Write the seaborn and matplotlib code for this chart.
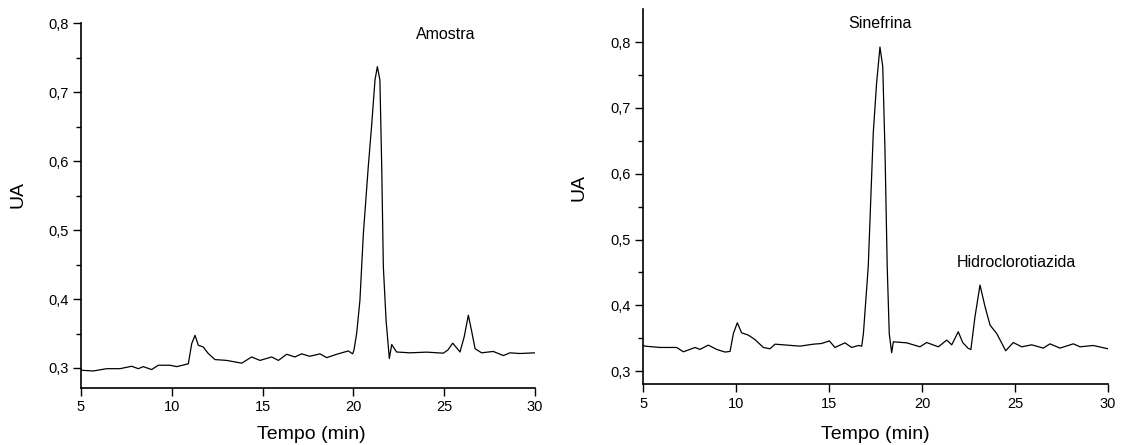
import numpy as np
import pandas as pd
import matplotlib
matplotlib.use("Agg")
import matplotlib.pyplot as plt
from matplotlib.ticker import FixedLocator, FuncFormatter
import seaborn as sns

# Chromatogram of the sample (Amostra)
amostra_tempo = [5.0, 5.04, 5.68, 6.41, 7.15, 7.79, 8.16, 8.43, 8.89, 9.26, 9.9, 10.27, 10.91,
                 11.1, 11.28, 11.46, 11.73, 12.01, 12.38, 13.02, 13.85, 14.4, 14.86, 15.5,
                 15.87, 16.33, 16.78, 17.15, 17.6, 18.16, 18.53, 19.08, 19.72, 19.96, 20.03,
                 20.18, 20.36, 20.55, 20.82, 21.0, 21.19, 21.32, 21.46, 21.56, 21.65, 21.8,
                 21.98, 22.11, 22.38, 23.11, 24.03, 24.95, 25.2, 25.47, 25.87, 26.1, 26.33,
                 26.5, 26.7, 27.06, 27.7, 28.26, 28.62, 29.17, 30.0]
amostra_ua = [0.297, 0.2967, 0.2957, 0.299, 0.299, 0.3025, 0.299, 0.302, 0.2977, 0.304, 0.304,
              0.302, 0.306, 0.3354, 0.3474, 0.333, 0.3305, 0.321, 0.3122, 0.311, 0.307, 0.316,
              0.311, 0.316, 0.311, 0.3199, 0.316, 0.3205, 0.317, 0.3205, 0.315, 0.3199, 0.3247,
              0.3205, 0.3257, 0.35, 0.398, 0.495, 0.592, 0.65, 0.7175, 0.737, 0.7175, 0.592,
              0.4466, 0.369, 0.3136, 0.334, 0.3232, 0.322, 0.323, 0.3215, 0.326, 0.336, 0.3232,
              0.345, 0.3765, 0.355, 0.328, 0.322, 0.324, 0.318, 0.322, 0.321, 0.322]

# Chromatogram of the standards (Sinefrina / Hidroclorotiazida)
padrao_tempo = [5.0, 5.11, 5.91, 6.81, 7.17, 7.8, 8.06, 8.51, 8.96, 9.41, 9.68, 9.86, 10.07,
                10.3, 10.66, 11.02, 11.47, 11.83, 12.1, 12.73, 13.44, 14.16, 14.6, 15.02,
                15.32, 15.86, 16.22, 16.58, 16.76, 16.85, 17.11, 17.38, 17.56, 17.74, 17.89,
                18.01, 18.13, 18.24, 18.37, 18.46, 19.18, 19.89, 20.25, 20.88, 21.33, 21.6,
                21.95, 22.19, 22.49, 22.63, 22.85, 23.12, 23.39, 23.66, 24.02, 24.19, 24.5,
                24.91, 25.36, 25.9, 26.52, 26.88, 27.42, 28.14, 28.5, 29.21, 30.0]
padrao_ua = [0.339, 0.338, 0.336, 0.336, 0.3294, 0.336, 0.333, 0.3396, 0.333, 0.329, 0.330,
             0.3574, 0.3735, 0.3583, 0.3548, 0.348, 0.336, 0.334, 0.341, 0.3396, 0.338, 0.341,
             0.342, 0.346, 0.336, 0.343, 0.336, 0.339, 0.338, 0.357, 0.4588, 0.6618, 0.738,
             0.7927, 0.763, 0.636, 0.459, 0.357, 0.328, 0.3446, 0.343, 0.337, 0.3435, 0.337,
             0.3472, 0.340, 0.3598, 0.3435, 0.3345, 0.333, 0.3827, 0.4309, 0.398, 0.370, 0.357,
             0.348, 0.331, 0.3435, 0.337, 0.340, 0.335, 0.3415, 0.335, 0.3415, 0.337, 0.339,
             0.334]

x_ticks = [5, 10, 15, 20, 25, 30]
y_ticks = [0.3, 0.4, 0.5, 0.6, 0.7, 0.8]
y_minor = [0.35, 0.45, 0.55, 0.65, 0.75]

sns.set_style("ticks")
plt.rcParams["font.family"] = ["Liberation Sans", "DejaVu Sans"]
plt.rcParams["text.color"] = "black"
plt.rcParams["axes.labelcolor"] = "black"
plt.rcParams["xtick.color"] = "black"
plt.rcParams["ytick.color"] = "black"

fig = plt.figure(figsize=(11.23, 4.45), dpi=100)
ax1 = fig.add_axes([0.0721, 0.1281, 0.4043, 0.8199])
ax2 = fig.add_axes([0.5726, 0.1364, 0.4140, 0.8427])

df1 = pd.DataFrame({"Tempo": amostra_tempo, "UA": amostra_ua})
df2 = pd.DataFrame({"Tempo": padrao_tempo, "UA": padrao_ua})

sns.lineplot(data=df1, x="Tempo", y="UA", ax=ax1, color="black", linewidth=0.9)
sns.lineplot(data=df2, x="Tempo", y="UA", ax=ax2, color="black", linewidth=0.9)

comma = FuncFormatter(lambda v, p: f"{v:.1f}".replace(".", ","))

panels = (
    (ax1, (0.271, 0.8), (-0.119, 0.529), (0.508, -0.104)),
    (ax2, (0.28, 0.85), (-0.120, 0.526), (0.499, -0.111)),
)
for ax, ylim, ylab_pos, xlab_pos in panels:
    ax.set_xlim(5, 30)
    ax.set_ylim(*ylim)
    ax.xaxis.set_major_locator(FixedLocator(x_ticks))
    ax.yaxis.set_major_locator(FixedLocator(y_ticks))
    ax.yaxis.set_minor_locator(FixedLocator(y_minor))
    ax.yaxis.set_major_formatter(comma)
    ax.tick_params(axis="both", which="major", direction="out", length=6, width=1,
                   labelsize=10.5, pad=3)
    ax.tick_params(axis="y", which="minor", direction="out", length=3.5, width=1)
    for s in ("top", "right"):
        ax.spines[s].set_visible(False)
    for s in ("left", "bottom"):
        ax.spines[s].set_linewidth(1.2)
        ax.spines[s].set_color("black")
    ax.set_xlabel("Tempo (min)", fontsize=14)
    ax.set_ylabel("UA", fontsize=14)
    ax.yaxis.set_label_coords(*ylab_pos)
    ax.xaxis.set_label_coords(*xlab_pos)

ax1.text(25.1, 0.783, "Amostra", ha="center", va="center", fontsize=11.5)
ax2.text(17.74, 0.829, "Sinefrina", ha="center", va="center", fontsize=11.5)
ax2.text(25.1, 0.465, "Hidroclorotiazida", ha="center", va="center", fontsize=11.5)

fig.savefig("out.png", dpi=100)
